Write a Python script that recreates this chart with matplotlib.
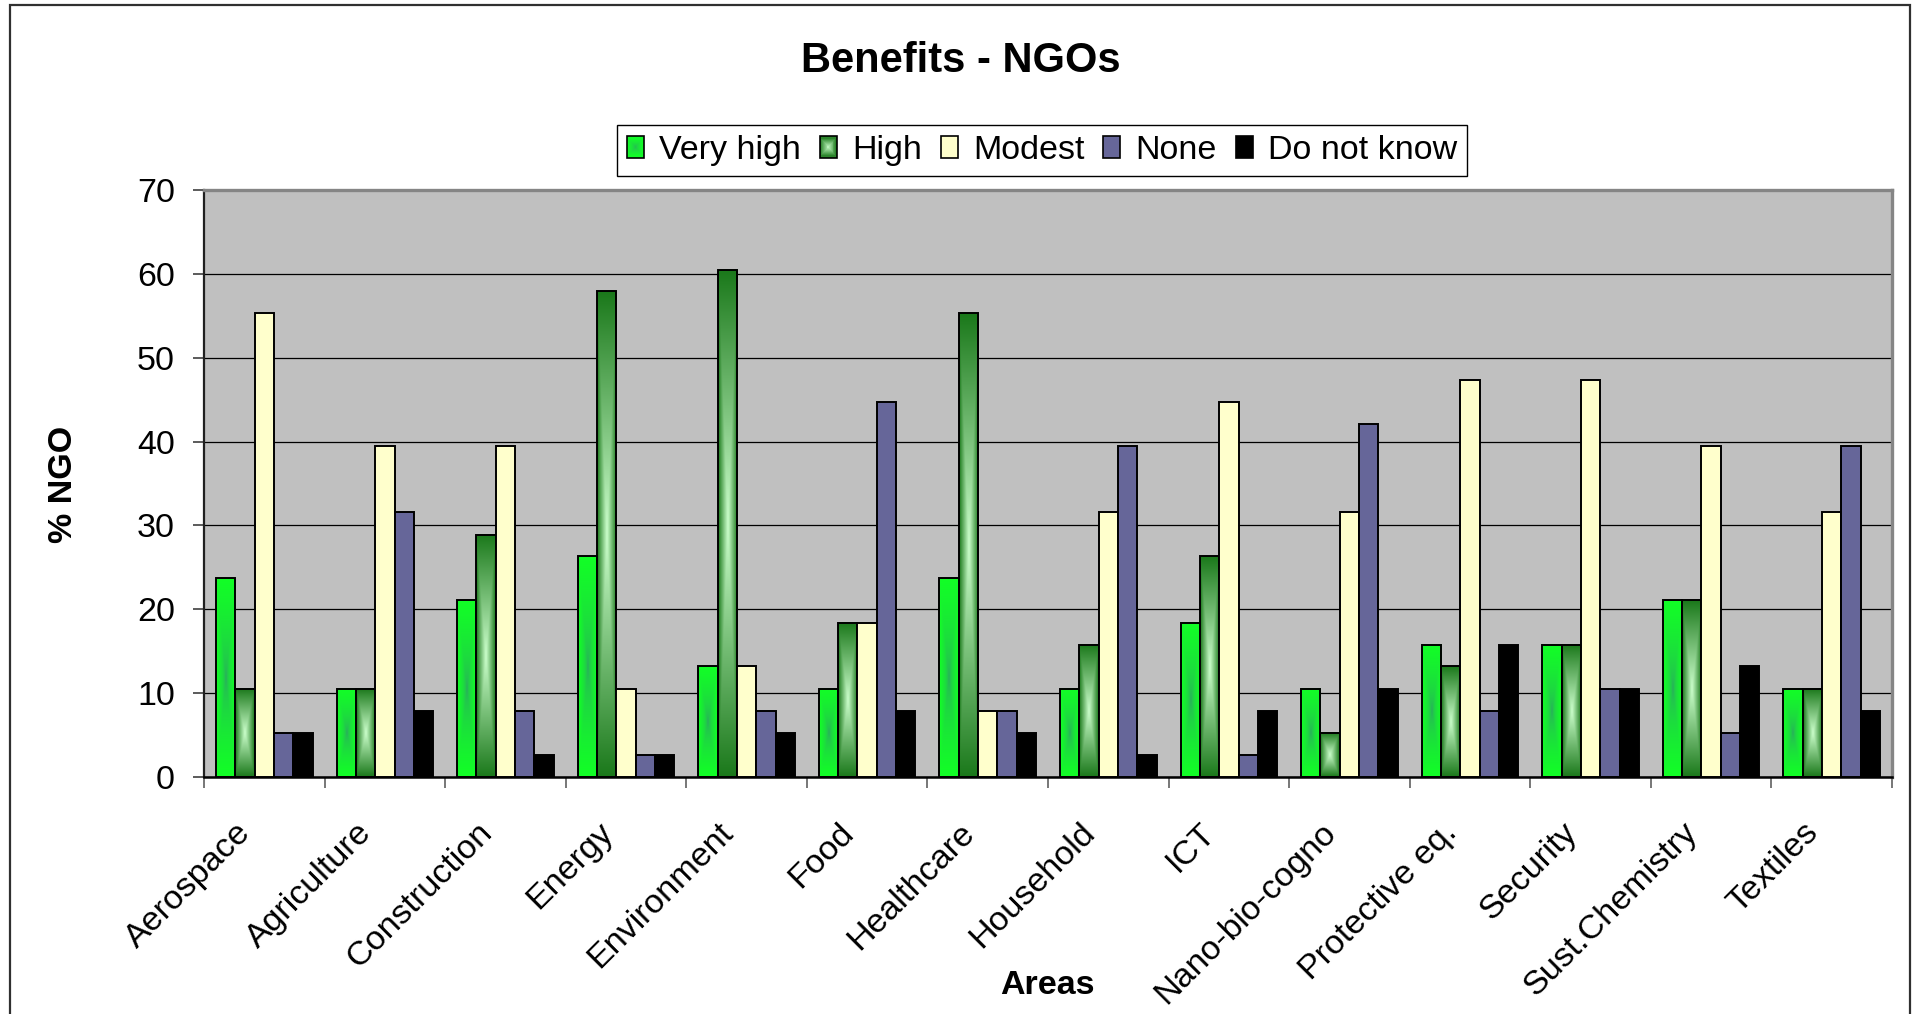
import numpy as np
import matplotlib
matplotlib.use("Agg")
import matplotlib.pyplot as plt
from matplotlib.patches import Rectangle, Patch
from matplotlib.legend_handler import HandlerBase
from matplotlib.colors import to_rgb

plt.rcParams["font.family"] = ["Liberation Sans", "DejaVu Sans"]

# ---- data (% of NGOs answering) ----
areas = ["Aerospace", "Agriculture", "Construction", "Energy", "Environment",
         "Food", "Healthcare", "Household", "ICT", "Nano-bio-cogno",
         "Protective eq.", "Security", "Sust.Chemistry", "Textiles"]
series_names = ["Very high", "High", "Modest", "None", "Do not know"]

very_high = [23.7, 10.5, 21.1, 26.3, 13.2, 10.5, 23.7, 10.5, 18.4, 10.5, 15.8, 15.8, 21.1, 10.5]
high      = [10.5, 10.5, 28.9, 57.9, 60.5, 18.4, 55.3, 15.8, 26.3, 5.3, 13.2, 15.8, 21.1, 10.5]
modest    = [55.3, 39.5, 39.5, 10.5, 13.2, 18.4, 7.9, 31.6, 44.7, 31.6, 47.4, 47.4, 39.5, 31.6]
none      = [5.3, 31.6, 7.9, 2.6, 7.9, 44.7, 7.9, 39.5, 2.6, 42.1, 7.9, 10.5, 5.3, 39.5]
dont_know = [5.3, 7.9, 2.6, 2.6, 5.3, 7.9, 5.3, 2.6, 7.9, 10.5, 15.8, 10.5, 13.2, 7.9]

yticks = [0, 10, 20, 30, 40, 50, 60, 70]

# ---- styling ----
FS = 24.5
W, H, DPI = 1914, 1014, 100

# gradient fills (center colour, edge colour, curve) and solid fills
grad_styles = {
    "Very high": ("#2E9E68", "#12FF26", 0.45),
    "High": ("#CCFFCC", "#1A781A", 1.0),
}
solid_colors = {"Modest": "#FFFFCC", "None": "#666699", "Do not know": "#000000"}


def center_gradient(c_center, c_edge, gamma, nx, ny):
    u = np.linspace(-1, 1, nx)
    v = np.linspace(-1, 1, ny)
    U, V = np.meshgrid(u, v)
    t = np.maximum(np.abs(U), np.abs(V)) ** gamma
    c0 = np.array(to_rgb(c_center))
    c1 = np.array(to_rgb(c_edge))
    return c0 + (c1 - c0) * t[..., None]


class GradientSquare(HandlerBase):
    def __init__(self, c_center, c_edge, gamma):
        super().__init__()
        self.c0 = np.array(to_rgb(c_center))
        self.c1 = np.array(to_rgb(c_edge))
        self.gamma = gamma

    def create_artists(self, legend, orig_handle, xdescent, ydescent,
                       width, height, fontsize, trans):
        arts = []
        n = 10
        for k in range(n):
            f = 1 - k / n
            col = self.c0 + (self.c1 - self.c0) * f ** self.gamma
            w, h = width * f, height * f
            arts.append(Rectangle((-xdescent + (width - w) / 2, -ydescent + (height - h) / 2),
                                  w, h, facecolor=col, edgecolor="none", transform=trans))
        arts.append(Rectangle((-xdescent, -ydescent), width, height, facecolor="none",
                              edgecolor="black", lw=1.2, transform=trans))
        return arts


fig = plt.figure(figsize=(W / DPI, H / DPI), dpi=DPI)
fig.patch.set_facecolor("white")

left, right = 204 / W, 1892 / W
bottom, top = 1 - 777 / H, 1 - 190 / H
ax = fig.add_axes([left, bottom, right - left, top - bottom])
ax.set_facecolor("#C0C0C0")

values = [very_high, high, modest, none, dont_know]
n = len(areas)
x = np.arange(n) + 0.5
bw = 0.16
px_per_unit = (777 - 190) / 70.0

handles = []
for j, (name, vals) in enumerate(zip(series_names, values)):
    pos = x + (j - 2) * bw
    if name in grad_styles:
        cc, ce, g = grad_styles[name]
        for xc, v in zip(pos, vals):
            ny = max(20, int(v * px_per_unit * 2))
            img = center_gradient(cc, ce, g, 40, ny)
            ax.imshow(img, extent=(xc - bw / 2, xc + bw / 2, 0, v), aspect="auto",
                      interpolation="bilinear", origin="lower", zorder=2)
        ax.bar(pos, vals, width=bw, facecolor="none", edgecolor="black", lw=1.4, zorder=3)
        handles.append(Patch(facecolor=ce, edgecolor="black", label=name))
    else:
        ax.bar(pos, vals, width=bw, facecolor=solid_colors[name], edgecolor="black",
               lw=1.4, zorder=3)
        handles.append(Patch(facecolor=solid_colors[name], edgecolor="black", lw=1.2, label=name))

ax.set_xlim(0, n)
ax.set_ylim(0, 70)
ax.set_yticks(yticks)
ax.set_yticklabels([str(t) for t in yticks], fontsize=FS)
ax.set_xticks(np.arange(n + 1))
ax.set_xticklabels([])
ax.tick_params(axis="y", direction="out", length=8, width=1.2, color="#404040", pad=13)
ax.tick_params(axis="x", direction="out", length=8, width=1.2, color="#606060")

ax.set_axisbelow(True)
ax.yaxis.grid(True, color="black", lw=0.9)
ax.xaxis.grid(False)

for s in ("top", "right"):
    ax.spines[s].set_color("#858585")
    ax.spines[s].set_linewidth(2.4)
ax.spines["left"].set_color("#202020")
ax.spines["left"].set_linewidth(1.6)
ax.spines["bottom"].set_color("black")
ax.spines["bottom"].set_linewidth(1.8)

# rotated category labels
for xc, lab in zip(x, areas):
    ax.annotate(lab, xy=(xc, 0), xycoords=("data", "axes fraction"),
                xytext=(-18, -51), textcoords="offset pixels",
                rotation=45, ha="right", va="center", rotation_mode="anchor",
                fontsize=FS)

# titles
fig.text(961 / W, 1 - 61 / H, "Benefits - NGOs", ha="center", va="center",
         fontsize=30, fontweight="bold")
fig.text(1047 / W, 1 - 985 / H, "Areas", ha="center", va="center",
         fontsize=FS, fontweight="bold")
fig.text(63 / W, 1 - 484 / H, "% NGO", ha="center", va="center", rotation=90,
         fontsize=FS, fontweight="bold")

# legend
hmap = {handles[0]: GradientSquare(*grad_styles["Very high"]),
        handles[1]: GradientSquare(*grad_styles["High"])}
leg = fig.legend(handles=handles, labels=series_names, loc="center",
                 bbox_to_anchor=(1042 / W, 1 - 150.5 / H), ncol=5,
                 fontsize=FS, frameon=True, fancybox=False, shadow=False,
                 edgecolor="black", framealpha=1, handlelength=0.5,
                 handleheight=0.58, handletextpad=0.45, columnspacing=0.55,
                 borderpad=0.3, borderaxespad=0, handler_map=hmap)
leg.get_frame().set_linewidth(1.0)

# chart area border
fig.add_artist(Rectangle((10 / W, -0.1), 1900 / W, 1.1 - 5 / H, transform=fig.transFigure,
                         fill=False, edgecolor="#303030", lw=1.6, clip_on=False))

fig.savefig("out.png", dpi=DPI, facecolor="white")
